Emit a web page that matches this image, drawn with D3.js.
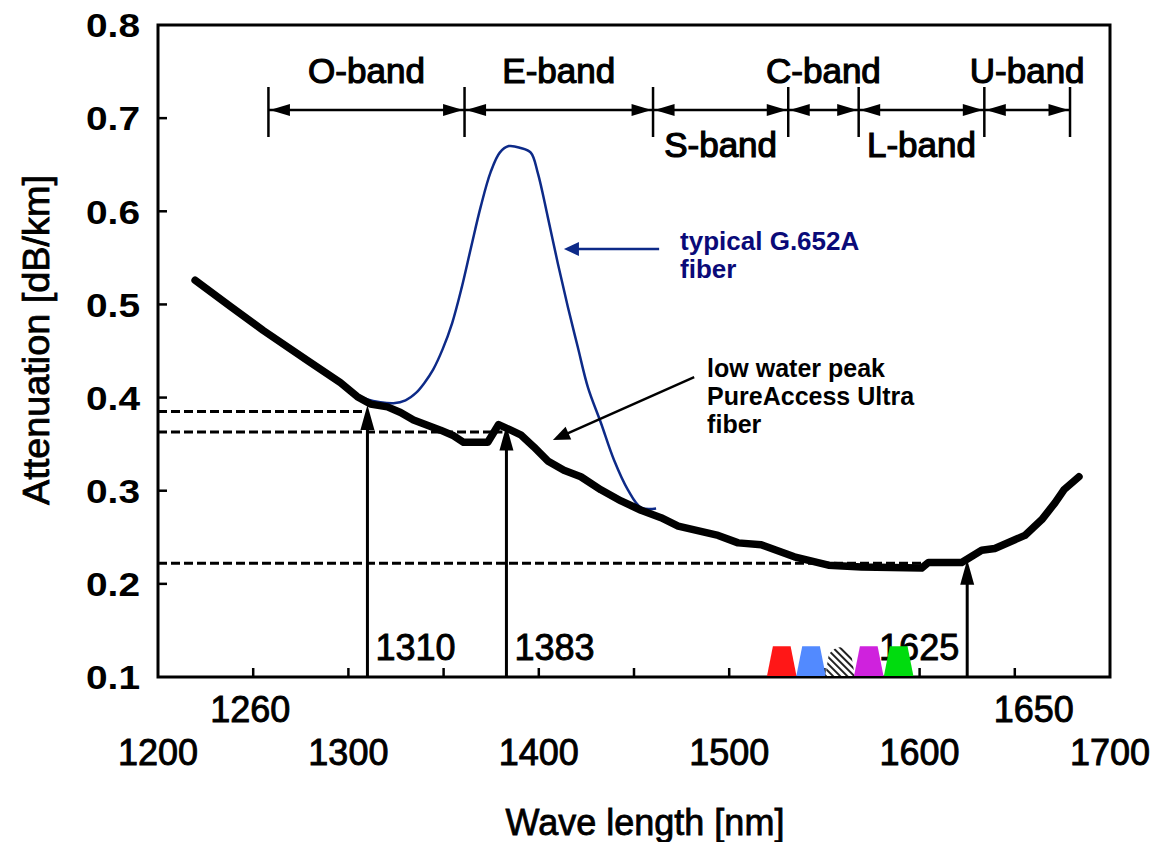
<!DOCTYPE html>
<html><head><meta charset="utf-8">
<script src="https://cdn.jsdelivr.net/npm/d3@7"></script>
<style>
body{margin:0;background:#fff}
svg{display:block}
text{font-family:"Liberation Sans",Arial,Helvetica,sans-serif}
</style>
</head><body>
<svg id="chart" width="1154" height="842"></svg>
<script>
// ---------- data ----------
const xTickLabels = [1200, 1300, 1400, 1500, 1600, 1700];
const xMinorTicks = [1250, 1300, 1350, 1400, 1450, 1500, 1550, 1600, 1650];
const yTickLabels = [0.1, 0.2, 0.3, 0.4, 0.5, 0.6, 0.7, 0.8];
const yMinorTicks = [0.2, 0.3, 0.4, 0.5, 0.6, 0.7];
const extraXLabels = ["1260", "1650"];
const extraXLabelWl = [1248.5, 1660];

// low water peak PureAccess Ultra fiber
const lowWpWl  = [1219.5,1237.9,1255.3,1278.4,1295.8,1304.7,1311.6,1320.5,1327.4,1334.2,1348.4,1355.3,1360.5,1373.2,1378.9,1385.3,1390.5,1397.4,1404.7,1413.2,1422.1,1432.6,1443.2,1453.7,1464.2,1473.2,1494.2,1504.7,1516.8,1534.2,1552.1,1569.5,1601.1,1604.7,1622.1,1632.6,1639.5,1655.3,1664.2,1671.1,1675.8,1683.7];
const lowWpAtt = [0.526,0.498,0.472,0.440,0.416,0.401,0.393,0.390,0.384,0.376,0.365,0.359,0.352,0.352,0.371,0.365,0.360,0.347,0.332,0.322,0.315,0.301,0.289,0.279,0.271,0.262,0.252,0.244,0.242,0.229,0.220,0.218,0.217,0.223,0.223,0.236,0.238,0.252,0.269,0.287,0.301,0.315];

// typical G.652A fiber
const g652Wl  = [1295.8,1303.7,1310.0,1316.8,1323.7,1330.0,1335.5,1340.0,1344.5,1349.5,1354.5,1359.5,1364.5,1369.5,1374.7,1379.5,1384.2,1390.5,1395.8,1399.5,1404.7,1410.0,1415.3,1420.5,1425.8,1432.6,1439.5,1446.8,1453.7,1461.6];
const g652Att = [0.415,0.404,0.398,0.395,0.394,0.397,0.405,0.416,0.430,0.452,0.480,0.518,0.562,0.605,0.642,0.663,0.670,0.668,0.663,0.641,0.594,0.544,0.497,0.454,0.411,0.373,0.333,0.301,0.282,0.281];

// bands
const bandEdges = [1258, 1361, 1460, 1531, 1568, 1634, 1679];
const bandNames = ["O-band", "E-band", "S-band", "C-band", "L-band", "U-band"];
const bandRow   = [0, 0, 1, 0, 1, 0];

// marked wavelengths
const markerWl     = [1310, 1383, 1625];
const markerLevel  = [0.385, 0.363, 0.222];
const markerTip    = [0.392, 0.370, 0.226];
const markerLabels = ["1310", "1383", "1625"];
const markerSide   = ["right", "right", "left"];

// DWDM channels
const channelCenters = [1527.6, 1543.0, 1558.2, 1573.3, 1589.0];
const channelFills   = ["#ff1717", "#528aff", "hatch", "#cf22dd", "#00dc0e"];
const channelWidth   = 15.5;
const channelTop     = 0.133;

// annotations
const blueNote  = {lines: ["typical G.652A", "fiber"], wl: 1474.2, att: 0.558, arrowFrom: [1463.2, 0.5595], arrowTo: [1413.2, 0.5595]};
const blackNote = {lines: ["low water peak", "PureAccess Ultra", "fiber"], wl: 1488.4, att: 0.422, arrowFrom: [1481.6, 0.422], arrowTo: [1407.4, 0.3544]};

// ---------- drawing ----------
const svg = d3.select("#chart");
const x = d3.scaleLinear().domain([1200, 1700]).range([158, 1110]);
const y = d3.scaleLinear().domain([0.1, 0.8]).range([677, 25]);

const defs = svg.append("defs");
const pat = defs.append("pattern").attr("id", "hatch").attr("patternUnits", "userSpaceOnUse")
  .attr("width", 5).attr("height", 5).attr("patternTransform", "rotate(-45)");
pat.append("rect").attr("width", 5).attr("height", 5).attr("fill", "#fff");
pat.append("rect").attr("width", 2).attr("height", 5).attr("fill", "#222");

function arrowHead(g, tx, ty, fx, fy, len, half, color) {
  const dx = tx - fx, dy = ty - fy, L = Math.hypot(dx, dy);
  const ux = dx / L, uy = dy / L, px = -uy, py = ux;
  const bx = tx - ux * len, by = ty - uy * len;
  g.append("path")
    .attr("d", `M${tx},${ty}L${bx + px * half},${by + py * half}L${bx - px * half},${by - py * half}Z`)
    .attr("fill", color);
}

// y axis tick labels
svg.append("g").selectAll("text").data(yTickLabels).join("text")
  .attr("x", 140).attr("y", d => y(d)).attr("dy", "0.36em")
  .attr("text-anchor", "end").attr("font-size", 34).attr("font-weight", "bold")
  .attr("textLength", 54).attr("lengthAdjust", "spacingAndGlyphs")
  .text(d => d.toFixed(1));

// x axis tick labels
svg.append("g").selectAll("text").data(xTickLabels).join("text")
  .attr("x", d => x(d)).attr("y", 765)
  .attr("text-anchor", "middle").attr("font-size", 36)
  .attr("stroke", "#000").attr("stroke-width", 0.9)
  .text(d => d);
svg.append("g").selectAll("text").data(extraXLabels).join("text")
  .attr("x", (d, i) => x(extraXLabelWl[i])).attr("y", 722)
  .attr("text-anchor", "middle").attr("font-size", 36)
  .attr("stroke", "#000").attr("stroke-width", 0.9)
  .text(d => d);

// axis titles
svg.append("text")
  .attr("transform", "translate(49,340) rotate(-90)")
  .attr("text-anchor", "middle").attr("font-size", 36)
  .attr("textLength", 330).attr("lengthAdjust", "spacingAndGlyphs")
  .attr("stroke", "#000").attr("stroke-width", 0.8)
  .text("Attenuation [dB/km]");
svg.append("text")
  .attr("x", 645).attr("y", 835)
  .attr("text-anchor", "middle").attr("font-size", 36)
  .attr("stroke", "#000").attr("stroke-width", 0.8)
  .text("Wave length [nm]");

// frame
svg.append("rect")
  .attr("x", x(1200)).attr("y", y(0.8))
  .attr("width", x(1700) - x(1200)).attr("height", y(0.1) - y(0.8))
  .attr("fill", "none").attr("stroke", "#000").attr("stroke-width", 3);

// ticks (inward)
svg.append("g").selectAll("line").data(xMinorTicks).join("line")
  .attr("x1", d => x(d)).attr("x2", d => x(d))
  .attr("y1", y(0.1)).attr("y2", y(0.1) - 9)
  .attr("stroke", "#000").attr("stroke-width", 2.5);
svg.append("g").selectAll("line").data(yMinorTicks).join("line")
  .attr("x1", x(1200)).attr("x2", x(1200) + 9)
  .attr("y1", d => y(d)).attr("y2", d => y(d))
  .attr("stroke", "#000").attr("stroke-width", 2.5);

// bands
const bg = svg.append("g");
const bandLineY = 110;
bg.selectAll("line.edge").data(bandEdges).join("line")
  .attr("x1", d => x(d)).attr("x2", d => x(d))
  .attr("y1", 87).attr("y2", 137)
  .attr("stroke", "#000").attr("stroke-width", 2.5);
bg.append("line")
  .attr("x1", x(bandEdges[0])).attr("x2", x(bandEdges[bandEdges.length - 1]))
  .attr("y1", bandLineY).attr("y2", bandLineY)
  .attr("stroke", "#000").attr("stroke-width", 2.5);
bandNames.forEach((name, i) => {
  const a = x(bandEdges[i]), b = x(bandEdges[i + 1]);
  arrowHead(bg, a + 1.5, bandLineY, b, bandLineY, 20, 6, "#000");
  arrowHead(bg, b - 1.5, bandLineY, a, bandLineY, 20, 6, "#000");
  bg.append("text")
    .attr("x", (a + b) / 2).attr("y", bandRow[i] === 0 ? 83 : 157)
    .attr("text-anchor", "middle").attr("font-size", 35)
    .attr("stroke", "#000").attr("stroke-width", 1.2)
    .text(name);
});

// dashed reference lines
svg.append("g").selectAll("line").data(markerLevel).join("line")
  .attr("x1", x(1200)).attr("x2", (d, i) => x(markerWl[i]) - 4)
  .attr("y1", d => y(d)).attr("y2", d => y(d))
  .attr("stroke", "#000").attr("stroke-width", 3).attr("stroke-dasharray", "9,4");

// marker labels
svg.append("g").selectAll("text").data(markerLabels).join("text")
  .attr("x", (d, i) => x(markerWl[i]) + (markerSide[i] === "right" ? 8 : -8))
  .attr("y", 660)
  .attr("text-anchor", (d, i) => markerSide[i] === "right" ? "start" : "end")
  .attr("font-size", 36).attr("stroke", "#000").attr("stroke-width", 0.9)
  .text(d => d);

// DWDM channels
const cg = svg.append("g");
channelCenters.forEach((c, i) => {
  const l = x(c - channelWidth / 2), r = x(c + channelWidth / 2);
  const inset = (r - l) * 0.2, b = y(0.1) - 1, t = y(channelTop);
  let d;
  if (channelFills[i] === "hatch") {
    d = `M${l},${b}L${l + inset * 0.6},${t + 8}Q${(l + r) / 2},${t - 6} ${r - inset * 0.6},${t + 8}L${r},${b}Z`;
  } else {
    d = `M${l},${b}L${l + inset},${t}L${r - inset},${t}L${r},${b}Z`;
  }
  cg.append("path").attr("d", d)
    .attr("fill", channelFills[i] === "hatch" ? "url(#hatch)" : channelFills[i]);
});

// vertical arrows
const ag = svg.append("g");
markerWl.forEach((wl, i) => {
  const xx = x(wl), tip = y(markerTip[i]);
  ag.append("line").attr("x1", xx).attr("x2", xx)
    .attr("y1", y(0.1)).attr("y2", tip + 10)
    .attr("stroke", "#000").attr("stroke-width", 3);
  arrowHead(ag, xx, tip, xx, y(0.1), 25, 7, "#000");
});

// curves
svg.append("path")
  .datum(g652Wl.map((w, i) => [w, g652Att[i]]))
  .attr("d", d3.line().x(d => x(d[0])).y(d => y(d[1])).curve(d3.curveCatmullRom))
  .attr("fill", "none").attr("stroke", "#0d2a88").attr("stroke-width", 2.5);

svg.append("path")
  .datum(lowWpWl.map((w, i) => [w, lowWpAtt[i]]))
  .attr("d", d3.line().x(d => x(d[0])).y(d => y(d[1])).curve(d3.curveLinear))
  .attr("fill", "none").attr("stroke", "#000").attr("stroke-width", 7.5)
  .attr("stroke-linejoin", "round").attr("stroke-linecap", "round");

// annotations
const blueG = svg.append("g");
blueG.append("line")
  .attr("x1", x(blueNote.arrowFrom[0])).attr("y1", y(blueNote.arrowFrom[1]))
  .attr("x2", x(blueNote.arrowTo[0]) + 10).attr("y2", y(blueNote.arrowTo[1]))
  .attr("stroke", "#0d2a88").attr("stroke-width", 2.5);
arrowHead(blueG, x(blueNote.arrowTo[0]), y(blueNote.arrowTo[1]),
  x(blueNote.arrowFrom[0]), y(blueNote.arrowFrom[1]), 15, 7, "#0d2a88");
blueG.selectAll("text").data(blueNote.lines).join("text")
  .attr("x", x(blueNote.wl)).attr("y", (d, i) => y(blueNote.att) + i * 28)
  .attr("font-size", 26).attr("font-weight", "bold").attr("fill", "#0a0a78")
  .text(d => d);

const blackG = svg.append("g");
{
  const fx = x(blackNote.arrowFrom[0]), fy = y(blackNote.arrowFrom[1]);
  const tx = x(blackNote.arrowTo[0]), ty = y(blackNote.arrowTo[1]);
  const L = Math.hypot(tx - fx, ty - fy);
  blackG.append("line").attr("x1", fx).attr("y1", fy)
    .attr("x2", tx - (tx - fx) / L * 10).attr("y2", ty - (ty - fy) / L * 10)
    .attr("stroke", "#000").attr("stroke-width", 2.5);
  arrowHead(blackG, tx, ty, fx, fy, 17, 7, "#000");
}
blackG.selectAll("text").data(blackNote.lines).join("text")
  .attr("x", x(blackNote.wl)).attr("y", (d, i) => y(blackNote.att) + i * 28)
  .attr("font-size", 25).attr("font-weight", "bold").attr("fill", "#000")
  .text(d => d);
</script>
</body></html>
